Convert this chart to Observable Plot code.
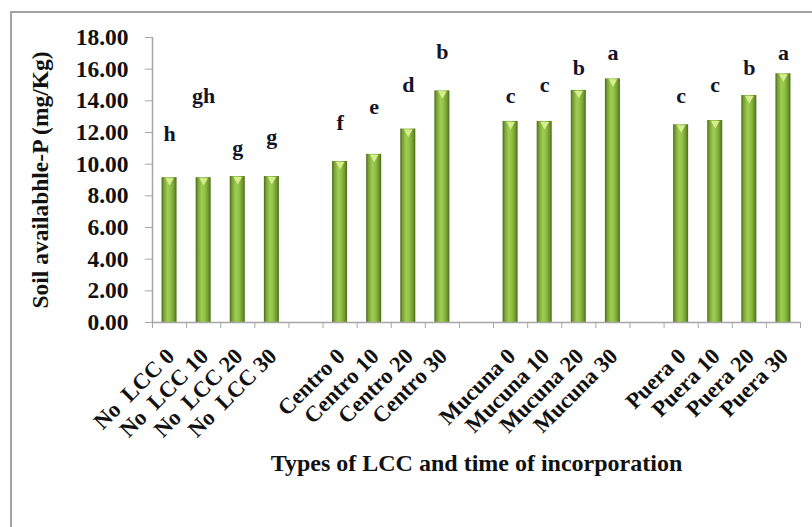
<!DOCTYPE html>
<html><head><meta charset="utf-8">
<script src="https://cdn.jsdelivr.net/npm/d3@7"></script>
<script src="https://cdn.jsdelivr.net/npm/@observablehq/plot@0.6"></script>
<style>
html,body{margin:0;padding:0;background:#fff;overflow:hidden;width:812px;height:527px}
#frame{position:absolute;left:10px;top:11px;width:900px;height:600px;border:2px solid #a3a3a3;box-sizing:border-box}
#chart{position:absolute;left:0;top:0}
</style></head><body>
<div id="frame"></div><div id="chart"></div>
<script>
// ---- data ----
const groups = ["No  LCC", "Centro", "Mucuna", "Puera"];
const times = [0, 10, 20, 30];
const noLCC  = [9.15, 9.15, 9.22, 9.22];
const centro = [10.17, 10.62, 12.22, 14.63];
const mucuna = [12.70, 12.70, 14.66, 15.39];
const puera  = [12.49, 12.76, 14.34, 15.71];
const letters = [["h","gh","g","g"], ["f","e","d","b"], ["c","c","b","a"], ["c","c","b","a"]];
const letterY = [[11.9, 14.3, 11.0, 11.7], [12.6, 13.6, 15.0, 17.1], [14.3, 15.0, 16.1, 17.0], [14.3, 15.0, 16.1, 17.0]];
const yTicks = [0, 2, 4, 6, 8, 10, 12, 14, 16, 18];
const yTitle = "Soil availabhle-P (mg/Kg)";
const xTitle = "Types of LCC and time of incorporation";

const series = [noLCC, centro, mucuna, puera];
const rows = [];
series.forEach((vals, g) => vals.forEach((v, k) => rows.push({
  slot: g * (times.length + 1) + k,
  label: `${groups[g]} ${times[k]}`,
  value: v, letter: letters[g][k], ly: letterY[g][k]
})));
const nSlots = groups.length * (times.length + 1) - 1;
const labelBySlot = new Map(rows.map(d => [d.slot + 0.5, d.label]));

const defs = () => {
  const ns = "http://www.w3.org/2000/svg";
  const d = document.createElementNS(ns, "defs");
  const lg = document.createElementNS(ns, "linearGradient");
  lg.setAttribute("id", "barGrad");
  lg.setAttribute("x1", "0"); lg.setAttribute("y1", "0");
  lg.setAttribute("x2", "1"); lg.setAttribute("y2", "0");
  [[0, "#4a661a"], [0.15, "#76a332"], [0.4, "#a0cc54"], [0.6, "#93c248"], [0.85, "#6e982d"], [1, "#4b681b"]]
    .forEach(([o, c]) => {
      const s = document.createElementNS(ns, "stop");
      s.setAttribute("offset", o); s.setAttribute("stop-color", c);
      lg.appendChild(s);
    });
  d.appendChild(lg);
  return d;
};

const gray = "#a6a6a6";
const chart = Plot.plot({
  width: 812, height: 527,
  marginLeft: 152, marginRight: 12, marginTop: 37, marginBottom: 205,
  style: {fontFamily: "'Liberation Serif', 'Times New Roman', serif", fontWeight: "bold", fontSize: "23.5px", color: "#111", background: "transparent"},
  x: {domain: [0, nSlots], axis: null},
  y: {domain: [0, 18], axis: null},
  marks: [
    defs,
    Plot.rectY(rows, {x1: d => d.slot + 0.28, x2: d => d.slot + 0.72, y1: 0, y2: "value", fill: "url(#barGrad)"}),
    Plot.dot(rows, {x: d => d.slot + 0.5, y: "value", symbol: "triangle", rotate: 180, r: 3.2, fill: "#d6ec8e", dy: 3}),
    Plot.ruleY([0], {stroke: gray, strokeWidth: 1.5}),
    Plot.ruleX([0], {y1: 0, y2: 18, stroke: gray, strokeWidth: 1.5}),
    Plot.axisY({ticks: yTicks, tickFormat: d3.format(".2f"), tickSize: 7, tickPadding: 17, stroke: gray, fill: "#111",
      fontSize: 23.5, label: yTitle, labelAnchor: "center", labelOffset: 121, labelArrow: false}),
    Plot.axisX({ticks: d3.range(0, nSlots + 1), tickSize: 6, tickFormat: () => "", stroke: gray, label: null}),
    Plot.axisX({ticks: rows.map(d => d.slot + 0.5), tickSize: 0, tickPadding: 30, tickRotate: -45, dx: 1,
      tickFormat: v => labelBySlot.get(v), fill: "#111", fontSize: 22.5,
      label: null}),
    Plot.axisX({ticks: [], tickSize: 0, fontSize: 24, fill: "#111",
      label: xTitle, labelAnchor: "center", labelOffset: 148, labelArrow: false}),
    Plot.text(rows, {x: d => d.slot + 0.5, y: "ly", text: "letter", fill: "#141428", fontSize: 22})
  ]
});
document.getElementById("chart").appendChild(chart);
</script>
</body></html>
